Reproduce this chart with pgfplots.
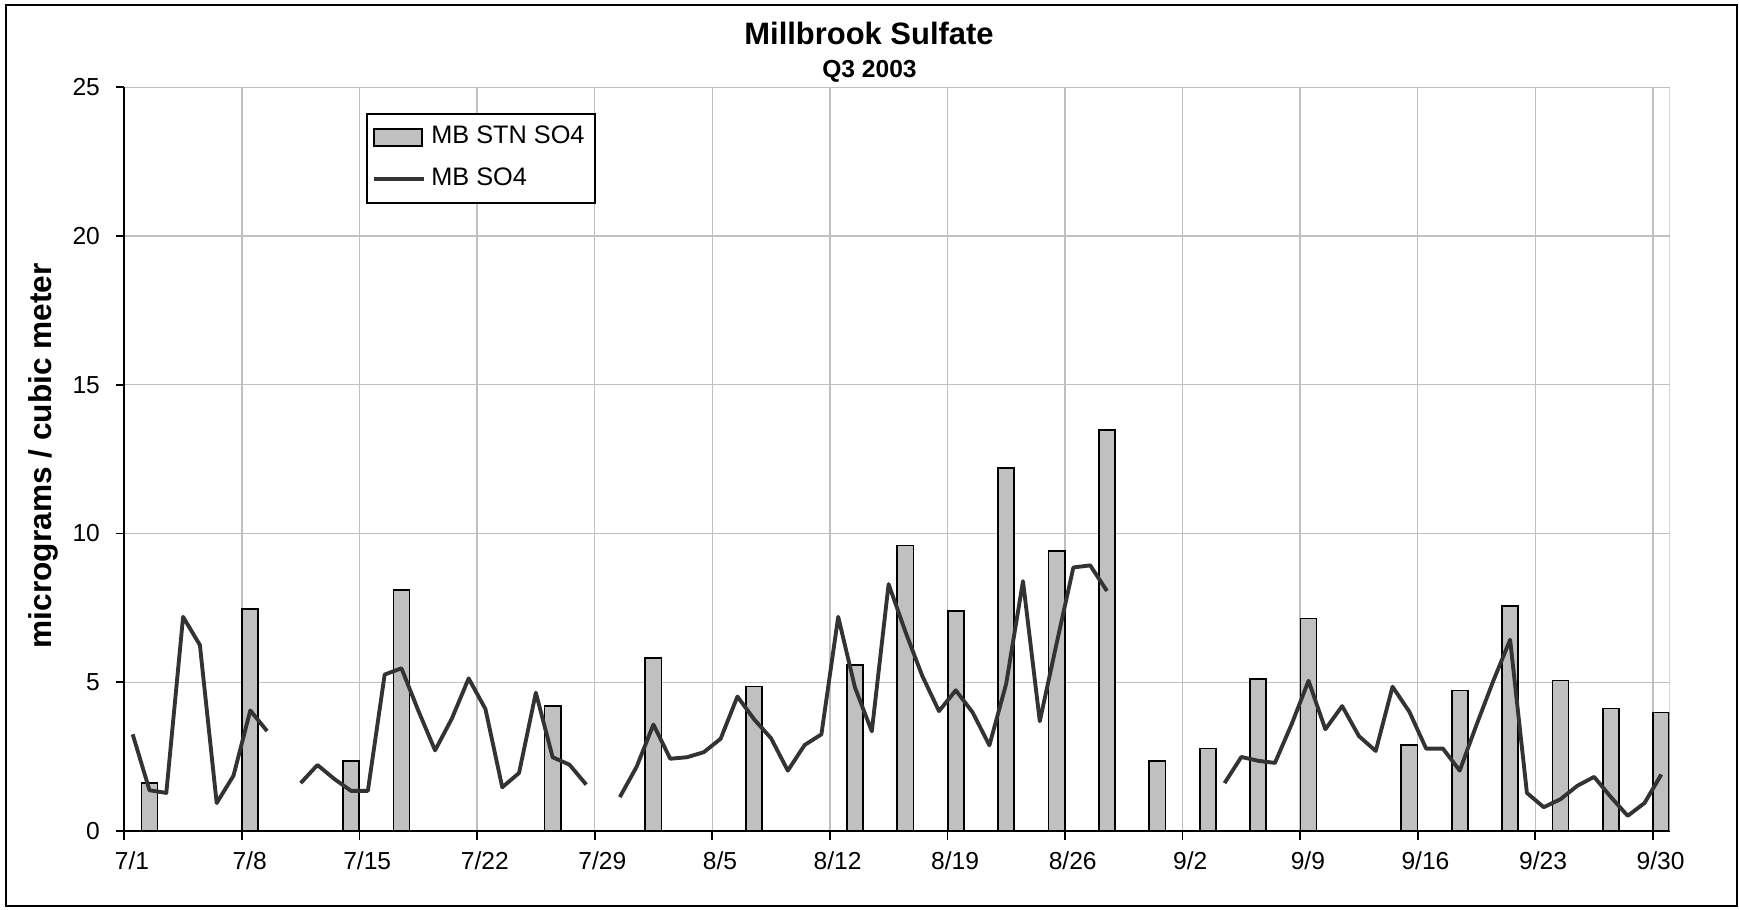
\documentclass[border=0pt]{standalone}
\usepackage{fontspec}
\setmainfont{Liberation Sans}
\usepackage{pgfplots}
\usepackage{pgfplotstable}
\pgfplotsset{compat=1.18}
\definecolor{barfill}{RGB}{192,192,192}
\definecolor{gridgray}{RGB}{192,192,192}
\definecolor{linecol}{RGB}{51,51,51}
\pgfplotsset{
  barlegend/.style={legend image code/.code={\draw[##1] (0cm,-0.085cm) rectangle (0.48cm,0.085cm);}},
  linelegend/.style={legend image code/.code={\draw[##1] (0cm,0cm) -- (0.5cm,0cm);}},
}

% MB STN SO4 (day index: 0 = 7/1)
\pgfplotstableread{
d v
1 1.61
7 7.47
13 2.36
16 8.10
25 4.20
31 5.81
37 4.86
43 5.58
46 9.60
49 7.40
52 12.21
55 9.40
58 13.49
61 2.36
64 2.77
67 5.12
70 7.14
76 2.90
79 4.72
82 7.57
85 5.06
88 4.12
91 3.98
}\stnbars

% MB SO4 (day index: 0 = 7/1)
\pgfplotstableread{
d v
0 3.25
1 1.37
2 1.28
3 7.20
4 6.25
5 0.94
6 1.86
7 4.05
8 3.36
9 nan
10 1.61
11 2.22
12 1.75
13 1.35
14 1.35
15 5.26
16 5.47
17 4.05
18 2.71
19 3.78
20 5.13
21 4.10
22 1.47
23 1.95
24 4.65
25 2.48
26 2.23
27 1.56
28 nan
29 1.14
30 2.16
31 3.58
32 2.43
33 2.48
34 2.65
35 3.10
36 4.52
37 3.75
38 3.12
39 2.03
40 2.89
41 3.25
42 7.20
43 4.82
44 3.35
45 8.30
46 6.70
47 5.22
48 4.03
49 4.73
50 3.99
51 2.88
52 4.95
53 8.40
54 3.69
55 6.30
56 8.86
57 8.93
58 8.07
59 nan
60 nan
61 nan
62 nan
63 nan
64 nan
65 1.61
66 2.49
67 2.36
68 2.29
69 3.60
70 5.05
71 3.42
72 4.20
73 3.19
74 2.69
75 4.85
76 4.01
77 2.77
78 2.77
79 2.03
80 3.57
81 5.05
82 6.43
83 1.28
84 0.80
85 1.07
86 1.52
87 1.82
88 1.14
89 0.51
90 0.94
91 1.90
}\mbline

\begin{document}
\begin{tikzpicture}
\useasboundingbox (0,0) rectangle (17.39,9.09);
\draw[line width=0.6pt] (0.06,0.03) rectangle (17.37,9.04);
\begin{axis}[
  scale only axis, width=15.454cm, height=7.437cm,
  at={(1.243cm,0.78cm)}, anchor=south west,
  xmin=0, xmax=92, ymin=0, ymax=25,
  axis x line*=bottom, axis y line*=left,
  axis line style={black, line width=0.5pt},
  xtick={0,7,...,91},
  xticklabels={7/1,7/8,7/15,7/22,7/29,8/5,8/12,8/19,8/26,9/2,9/9,9/16,9/23,9/30},
  ytick={0,5,10,15,20,25},
  tick align=outside, major tick length=0.085cm,
  tick style={black, line width=0.5pt},
  grid=major, major grid style={gridgray, line width=0.4pt},
  ticklabel style={font=\fontsize{7}{8}\selectfont},
  /pgf/number format/assume math mode=true,
  xticklabel style={xshift=2.2pt},
  yticklabel style={xshift=-1pt},
  unbounded coords=jump,
  legend cell align=left,
  legend style={at={(0.1564,0.9654)}, anchor=north west, draw=black, line width=0.5pt,
    fill=white, font=\fontsize{7.2}{8.5}\selectfont, inner xsep=1.5pt, inner ysep=2.5pt,
    row sep=3.3pt, nodes={inner xsep=1.5pt, inner ysep=1pt},
    /tikz/every even column/.append style={column sep=0pt}},
]
\addplot[ybar, bar width=0.96, bar shift=0pt, fill=barfill, draw=black, line width=0.5pt, barlegend]
  table[x expr=\thisrow{d}+0.5, y=v] {\stnbars};
\addlegendentry{MB STN SO4}
\addplot[color=linecol, line width=1.1pt, line join=round, mark=none, linelegend]
  table[x expr=\thisrow{d}+0.5, y=v] {\mbline};
\addlegendentry{MB SO4}
\draw[gridgray, line width=0.4pt] (rel axis cs:1,0) -- (rel axis cs:1,1);
\end{axis}
\node[anchor=base, font=\bfseries\fontsize{8.8}{10}\selectfont] at (8.69,8.64) {Millbrook Sulfate};
\node[anchor=base, font=\bfseries\fontsize{7}{8}\selectfont] at (8.695,8.315) {Q3 2003};
\node[rotate=90, anchor=base, font=\bfseries\fontsize{9}{10}\selectfont] at (0.52,4.533) {micrograms / cubic meter};
\end{tikzpicture}
\end{document}
